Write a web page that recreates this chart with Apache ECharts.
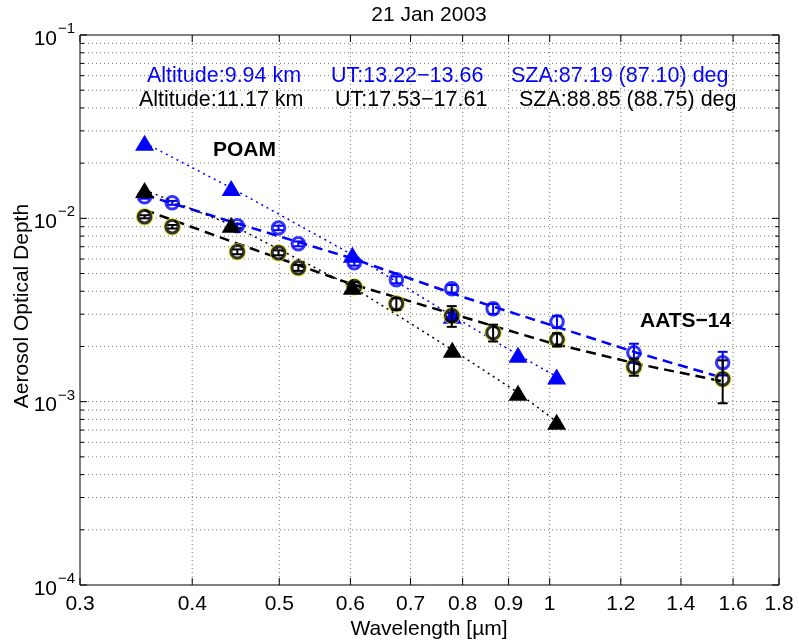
<!DOCTYPE html>
<html><head><meta charset="utf-8">
<script src="https://cdn.jsdelivr.net/npm/echarts@6/dist/echarts.min.js"></script>
<style>html,body{margin:0;padding:0;background:#fff}#c{width:799px;height:644px}</style>
</head><body><div id="c"></div>
<script>
// ---- data ----
const xTickValues = [0.3, 0.4, 0.5, 0.6, 0.7, 0.8, 0.9, 1, 1.2, 1.4, 1.6, 1.8];
const xTickLabels = ['0.3', '0.4', '0.5', '0.6', '0.7', '0.8', '0.9', '1', '1.2', '1.4', '1.6', '1.8'];
const yDecades = [1e-4, 1e-3, 1e-2, 1e-1];
const yDecadeExponents = ['\u22124', '\u22123', '\u22122', '\u22121'];
const yMinorGrid = [2e-4, 3e-4, 4e-4, 5e-4, 6e-4, 7e-4, 8e-4, 9e-4,
                    2e-3, 3e-3, 4e-3, 5e-3, 6e-3, 7e-3, 8e-3, 9e-3,
                    2e-2, 3e-2, 4e-2, 5e-2, 6e-2, 7e-2, 8e-2, 9e-2];

const aatsWavelengths = [0.354, 0.380, 0.449, 0.499, 0.525, 0.606, 0.675, 0.778, 0.865, 1.019, 1.241, 1.558];
const aatsBlueAOD  = [0.0131, 0.01215, 0.0091, 0.00887, 0.00726, 0.00572, 0.00462, 0.00413, 0.00321, 0.00273, 0.00185, 0.00163];
const aatsBlueErr  = [0.0003, 0.0003, 0.00025, 0.00025, 0.00022, 0.0002, 0.0002, 0.0002, 0.0002, 0.0002, 0.00022, 0.00024];
const aatsBlackAOD = [0.0102, 0.0090, 0.00657, 0.00649, 0.00537, 0.00423, 0.00342, 0.00294, 0.00238, 0.00218, 0.00155, 0.00133];
const aatsBlackErr = [0.0002, 0.0002, 0.0002, 0.0002, 0.0002, 0.00025, 0.00025, 0.00038, 0.00025, 0.00018, 0.000165, 0.00035];

const poamWavelengths = [0.354, 0.442, 0.603, 0.779, 0.922, 1.018];
const poamBlueAOD  = [0.0258, 0.01466, 0.00633, 0.00294, 0.0018, 0.00137];
const poamBlackAOD = [0.01429, 0.00922, 0.00423, 0.00192, 0.00112, 0.000778];

const fitWavelengths = [0.354, 0.45, 0.6, 0.8, 1.0, 1.25, 1.558];
const blueFitAOD  = [0.01343, 0.00933, 0.00609, 0.00373, 0.00263, 0.00185, 0.00135];
const blackFitAOD = [0.01112, 0.00726, 0.0044, 0.0029, 0.0021, 0.00161, 0.00129];

// ---- build ----
const X_MIN = 0.3, X_MAX = 1.8, Y_MIN = 1e-4, Y_MAX = 1e-1;
const FONT = 'Liberation Sans';
const BLUE = '#0000ff', BLACK = '#000000', YELLOW = '#d8d800', GRID = '#777777';
const zip = (a, b) => a.map((v, i) => [v, b[i]]);
const zip3 = (a, b, c) => a.map((v, i) => [v, b[i], c[i]]);

function errRender(color) {
  return function (params, api) {
    const x = api.value(0), v = api.value(1), e = api.value(2);
    const p1 = api.coord([x, v - e]), p2 = api.coord([x, v + e]);
    const cw = 5, st = { stroke: color, lineWidth: 2 };
    return { type: 'group', children: [
      { type: 'line', shape: { x1: p1[0], y1: p1[1], x2: p2[0], y2: p2[1] }, style: st },
      { type: 'line', shape: { x1: p1[0] - cw, y1: p1[1], x2: p1[0] + cw, y2: p1[1] }, style: st },
      { type: 'line', shape: { x1: p2[0] - cw, y1: p2[1], x2: p2[0] + cw, y2: p2[1] }, style: st }
    ]};
  };
}

const xGridSeries = {
  type: 'custom', silent: true, clip: false, z: 1,
  data: xTickValues.map(v => [v, Y_MIN]),
  encode: { x: 0, y: 1 },
  renderItem: function (params, api) {
    const v = api.value(0);
    const b = api.coord([v, Y_MIN]), t = api.coord([v, Y_MAX]);
    const ch = [];
    if (v > X_MIN && v < X_MAX) {
      ch.push({ type: 'line', shape: { x1: b[0], y1: b[1], x2: t[0], y2: t[1] },
        style: { stroke: GRID, lineWidth: 1, lineDash: [1, 3] } });
    }
    ch.push({ type: 'line', shape: { x1: b[0], y1: b[1], x2: b[0], y2: b[1] - 7 }, style: { stroke: BLACK, lineWidth: 1 } });
    ch.push({ type: 'line', shape: { x1: t[0], y1: t[1], x2: t[0], y2: t[1] + 7 }, style: { stroke: BLACK, lineWidth: 1 } });
    ch.push({ type: 'text', x: b[0], y: b[1] + 19,
      style: { text: xTickLabels[params.dataIndex], fontSize: 21, fontFamily: FONT, fill: BLACK, align: 'center', verticalAlign: 'middle' } });
    return { type: 'group', children: ch };
  }
};

const yGridValues = yDecades.concat(yMinorGrid);
const yGridSeries = {
  type: 'custom', silent: true, clip: false, z: 1,
  data: yGridValues.map(v => [X_MIN, v]),
  encode: { x: 0, y: 1 },
  renderItem: function (params, api) {
    const v = api.value(1);
    const major = params.dataIndex < yDecades.length;
    const l = api.coord([X_MIN, v]), r = api.coord([X_MAX, v]);
    const ch = [];
    if (v > Y_MIN && v < Y_MAX) {
      ch.push({ type: 'line', shape: { x1: l[0], y1: l[1], x2: r[0], y2: r[1] },
        style: { stroke: GRID, lineWidth: 1, lineDash: [1, 3] } });
    }
    const tl = major ? 7 : 4;
    ch.push({ type: 'line', shape: { x1: l[0], y1: l[1], x2: l[0] + tl, y2: l[1] }, style: { stroke: BLACK, lineWidth: 1 } });
    ch.push({ type: 'line', shape: { x1: r[0], y1: r[1], x2: r[0] - tl, y2: r[1] }, style: { stroke: BLACK, lineWidth: 1 } });
    if (major) {
      ch.push({ type: 'text', x: l[0] - 23, y: l[1] + 4,
        style: { text: '10', fontSize: 21, fontFamily: FONT, fill: BLACK, align: 'right', verticalAlign: 'middle' } });
      ch.push({ type: 'text', x: l[0] - 22, y: l[1] - 6,
        style: { text: yDecadeExponents[params.dataIndex], fontSize: 15, fontFamily: FONT, fill: BLACK, align: 'left', verticalAlign: 'middle' } });
    }
    return { type: 'group', children: ch };
  }
};

const chart = echarts.init(document.getElementById('c'), null, { renderer: 'canvas' });
const option = {
  animation: false,
  backgroundColor: '#ffffff',
  grid: { left: 80, right: 20, top: 35, bottom: 59, show: true, borderColor: BLACK, borderWidth: 1, backgroundColor: 'transparent' },
  xAxis: { type: 'log', min: X_MIN, max: X_MAX, axisLine: { show: false }, axisTick: { show: false }, axisLabel: { show: false }, splitLine: { show: false } },
  yAxis: { type: 'log', min: Y_MIN, max: Y_MAX, axisLine: { show: false }, axisTick: { show: false }, axisLabel: { show: false }, splitLine: { show: false } },
  graphic: [
    { type: 'text', x: 429, y: 15, style: { text: '21 Jan 2003', fontSize: 21, fontFamily: FONT, fill: BLACK, align: 'center', verticalAlign: 'middle' } },
    { type: 'text', x: 429, y: 629, style: { text: 'Wavelength [\u00b5m]', fontSize: 21, fontFamily: FONT, fill: BLACK, align: 'center', verticalAlign: 'middle' } },
    { type: 'text', x: 22, y: 306, rotation: Math.PI / 2, style: { text: 'Aerosol Optical Depth', fontSize: 21, fontFamily: FONT, fill: BLACK, align: 'center', verticalAlign: 'middle' } },
    { type: 'text', x: 147, y: 76, style: { text: 'Altitude:9.94 km', fontSize: 21.5, fontFamily: FONT, fill: BLUE, align: 'left', verticalAlign: 'middle' } },
    { type: 'text', x: 331, y: 76, style: { text: 'UT:13.22\u221213.66', fontSize: 21.5, fontFamily: FONT, fill: BLUE, align: 'left', verticalAlign: 'middle' } },
    { type: 'text', x: 511, y: 76, style: { text: 'SZA:87.19 (87.10) deg', fontSize: 21.5, fontFamily: FONT, fill: BLUE, align: 'left', verticalAlign: 'middle' } },
    { type: 'text', x: 139, y: 100, style: { text: 'Altitude:11.17 km', fontSize: 21.5, fontFamily: FONT, fill: BLACK, align: 'left', verticalAlign: 'middle' } },
    { type: 'text', x: 335, y: 100, style: { text: 'UT:17.53\u221217.61', fontSize: 21.5, fontFamily: FONT, fill: BLACK, align: 'left', verticalAlign: 'middle' } },
    { type: 'text', x: 519, y: 100, style: { text: 'SZA:88.85 (88.75) deg', fontSize: 21.5, fontFamily: FONT, fill: BLACK, align: 'left', verticalAlign: 'middle' } },
    { type: 'text', x: 213, y: 150, z: 50, style: { text: 'POAM', fontSize: 21, fontWeight: 'bold', fontFamily: FONT, fill: BLACK, align: 'left', verticalAlign: 'middle' } },
    { type: 'text', x: 640, y: 321, z: 50, style: { text: 'AATS\u221214', fontSize: 21, fontWeight: 'bold', fontFamily: FONT, fill: BLACK, align: 'left', verticalAlign: 'middle' } }
  ],
  series: [
    xGridSeries,
    yGridSeries,
    { name: 'blueFit', type: 'line', z: 3, data: zip(fitWavelengths, blueFitAOD), showSymbol: false, symbol: 'none', silent: true,
      lineStyle: { color: BLUE, width: 2.5, type: [10, 6] } },
    { name: 'blackFit', type: 'line', z: 3, data: zip(fitWavelengths, blackFitAOD), showSymbol: false, symbol: 'none', silent: true,
      lineStyle: { color: BLACK, width: 2.5, type: [10, 6] } },
    { name: 'aatsBlue', type: 'scatter', z: 4, data: zip(aatsWavelengths, aatsBlueAOD), symbol: 'circle', symbolSize: 12.5,
      itemStyle: { color: 'rgba(0,0,0,0)', borderColor: BLUE, borderWidth: 3 } },
    { name: 'aatsBlueErr', type: 'custom', z: 5, data: zip3(aatsWavelengths, aatsBlueAOD, aatsBlueErr), encode: { x: 0, y: 1 }, renderItem: errRender(BLUE) },
    { name: 'poamBlue', type: 'line', z: 6, data: zip(poamWavelengths, poamBlueAOD), symbol: 'triangle', symbolSize: [19, 16], showSymbol: true,
      itemStyle: { color: BLUE, borderWidth: 0 }, lineStyle: { color: BLUE, width: 1.5, type: [2, 4] } },
    { name: 'aatsBlackHalo', type: 'scatter', z: 7, data: zip(aatsWavelengths, aatsBlackAOD), symbol: 'circle', symbolSize: 16,
      itemStyle: { color: 'rgba(0,0,0,0)', borderColor: YELLOW, borderWidth: 1.5 } },
    { name: 'aatsBlack', type: 'scatter', z: 8, data: zip(aatsWavelengths, aatsBlackAOD), symbol: 'circle', symbolSize: 12.5,
      itemStyle: { color: 'rgba(0,0,0,0)', borderColor: BLACK, borderWidth: 3 } },
    { name: 'aatsBlackErr', type: 'custom', z: 9, data: zip3(aatsWavelengths, aatsBlackAOD, aatsBlackErr), encode: { x: 0, y: 1 }, renderItem: errRender(BLACK) },
    { name: 'poamBlack', type: 'line', z: 10, data: zip(poamWavelengths, poamBlackAOD), symbol: 'triangle', symbolSize: [19, 16], showSymbol: true,
      itemStyle: { color: BLACK, borderWidth: 0 }, lineStyle: { color: BLACK, width: 1.5, type: [2, 4] } }
  ]
};
chart.setOption(option);
</script>
</body></html>
